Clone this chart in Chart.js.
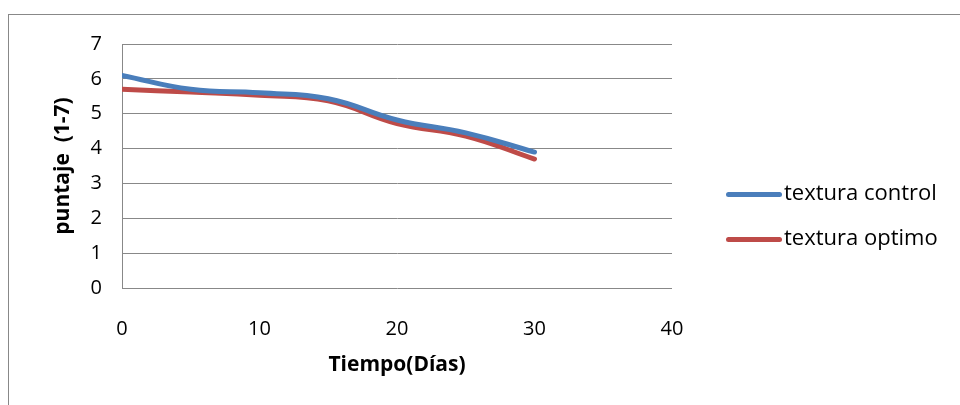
<!DOCTYPE html>
<html>
<head>
<meta charset="utf-8">
<script src="https://cdn.jsdelivr.net/npm/chart.js@4"></script>
<style>
  body { margin: 0; background: #fff; }
  #wrap { position: relative; width: 960px; height: 405px; overflow: hidden; }
  #frame { position: absolute; left: 8px; top: 14px; width: 1000px; height: 500px; border: 1px solid #888; }
  canvas { position: absolute; left: 0; top: 0; }
  .leg { position: absolute; left: 726px; font: 22px "Open Sans", sans-serif; color: #000; white-space: nowrap; }
  .leg span { display: inline-block; width: 56px; height: 5px; border-radius: 3px; vertical-align: middle; margin-right: 2px; }
</style>
</head>
<body>
<div id="wrap">
  <div id="frame"></div>
  <canvas id="chart" width="960" height="405"></canvas>
  <div class="leg" style="top:176px"><span style="background:#4a7ebb"></span>textura control</div>
  <div class="leg" style="top:221px"><span style="background:#be4b48"></span>textura optimo</div>
</div>
<script>
const dias = [0, 5, 10, 15, 20, 25, 30];
const texturaControl = [6.1, 5.7, 5.6, 5.43, 4.82, 4.45, 3.9];
const texturaOptimo = [5.7, 5.62, 5.53, 5.37, 4.72, 4.36, 3.7];
const yTicks = [0, 1, 2, 3, 4, 5, 6, 7];

function pts(vals) {
  return dias.map((d, i) => ({ x: d, y: vals[i] }));
}

const font = { family: "'Open Sans', sans-serif", size: 20 };
const titleFont = { family: font.family, size: 21, weight: "bold" };

new Chart(document.getElementById("chart"), {
  type: "line",
  data: {
    datasets: [
      { label: "textura control", data: pts(texturaControl), borderColor: "#4a7ebb", borderWidth: 5, tension: 0.45, pointRadius: 0, borderCapStyle: "round" },
      { label: "textura optimo", data: pts(texturaOptimo), borderColor: "#be4b48", borderWidth: 5, tension: 0.45, pointRadius: 0, borderCapStyle: "round" },
    ],
  },
  options: {
    responsive: false,
    animation: false,
    layout: { padding: { left: 0, top: 44, right: 288, bottom: 0 } },
    plugins: { legend: { display: false }, tooltip: { enabled: false } },
    scales: {
      x: {
        type: "linear", min: 0, max: 40,
        ticks: { stepSize: 10, font: font, color: "#000", padding: 21 },
        grid: { display: false },
        border: { display: false },
        title: { display: true, text: "Tiempo(Días)", font: titleFont, color: "#000", padding: { top: 0, bottom: 27 } },
        afterFit: (s) => { s.height = 405 - 288; },
      },
      y: {
        min: 0, max: 7,
        afterBuildTicks: (s) => { s.ticks = yTicks.map(v => ({ value: v })); },
        ticks: { font: font, color: "#000", padding: 20 },
        grid: { color: "#888", lineWidth: 1, drawTicks: false },
        border: { display: true, color: "#888", width: 1 },
        title: { display: true, text: "puntaje  (1-7)", font: titleFont, color: "#000", padding: { top: 50, bottom: 0 } },
        afterFit: (s) => { s.width = 122; },
      },
    },
  },
});
</script>
</body>
</html>
